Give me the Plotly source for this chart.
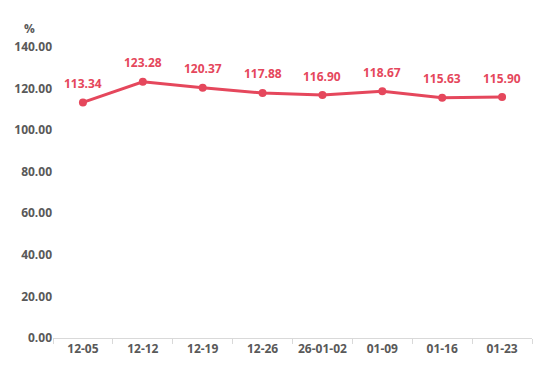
import plotly.graph_objects as go

categories = ["12-05", "12-12", "12-19", "12-26", "26-01-02", "01-09", "01-16", "01-23"]
values = [113.34, 123.28, 120.37, 117.88, 116.90, 118.67, 115.63, 115.90]
y_ticks = [0, 20, 40, 60, 80, 100, 120, 140]

color = "#E5475C"
fig = go.Figure()
fig.add_trace(go.Scatter(
    x=categories, y=values, mode="lines+markers",
    line=dict(color=color, width=3),
    marker=dict(color=color, size=8),
    cliponaxis=False,
))
for c, v in zip(categories, values):
    fig.add_annotation(x=c, y=v, text=f"{v:.2f}", showarrow=False,
                       yanchor="middle", yshift=19,
                       font=dict(color=color, size=12, family="Open Sans", weight="bold"))
fig.update_layout(
    width=535, height=368,
    margin=dict(l=53, r=3, t=47, b=30),
    plot_bgcolor="white", paper_bgcolor="white",
    showlegend=False,
    font=dict(family="Open Sans", color="#595959", size=12),
)
fig.update_xaxes(
    type="category", showgrid=False, showline=True, linecolor="#D9D9D9", linewidth=1,
    ticks="outside", tickson="boundaries", ticklen=5, tickcolor="#D9D9D9",
    tickfont=dict(size=12, weight="bold", color="#595959"),
    range=[-0.5, len(categories) - 0.5],
)
fig.update_yaxes(
    range=[0, 140], tickvals=y_ticks, ticktext=[f"{v:.2f}" for v in y_ticks],
    showgrid=False, zeroline=False, showline=False, ticks="",
    tickfont=dict(size=12, weight="bold", color="#595959"),
)
fig.add_annotation(text="%", xref="paper", yref="paper", x=-0.05, y=1.0, yshift=8,
                   showarrow=False, xanchor="center", yanchor="bottom",
                   font=dict(size=12, weight="bold", color="#595959"))
fig.write_html("out.html")
